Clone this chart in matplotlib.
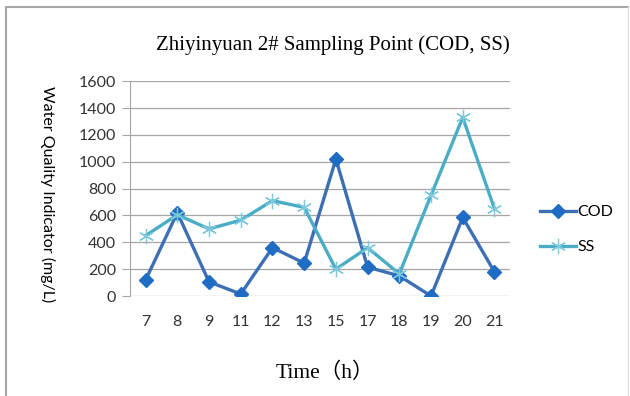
import matplotlib
matplotlib.use('Agg')
import matplotlib.pyplot as plt
from matplotlib.lines import Line2D

hours = ['7', '8', '9', '11', '12', '13', '15', '17', '18', '19', '20', '21']
cod = [120, 620, 105, 15, 360, 245, 1020, 215, 150, 0, 585, 180]
ss = [450, 605, 500, 565, 710, 660, 200, 360, 165, 750, 1330, 650]
yticks = [0, 200, 400, 600, 800, 1000, 1200, 1400, 1600]

fig = plt.figure(figsize=(6.3, 3.96), dpi=100)
ax = fig.add_axes([0.206, 0.2525, 0.604, 0.5425])

# frame around the chart (left, top, right edges only)
fig.add_artist(Line2D([0.009, 0.009], [0, 0.982], color='#a6a6a6', lw=1.5))
fig.add_artist(Line2D([0.009, 0.997], [0.982, 0.982], color='#a6a6a6', lw=1.5))
fig.add_artist(Line2D([0.997, 0.997], [0, 0.982], color='#e0e0e0', lw=1))

x = range(len(hours))
ax.plot(x, cod, color='#3d6fb4', lw=2.4, marker='D', ms=7,
        mfc='#1f6cc4', mec='#1f6cc4', label='COD', zorder=3)
ax.plot(x, ss, color='#4bacc6', lw=2.4, marker=(6, 2, 0), ms=11,
        mec='#7cc9dc', mew=0.9, label='SS', zorder=3)

ax.set_xlim(-0.5, len(hours) - 0.5)
ax.set_ylim(0, 1600)
ax.set_yticks(yticks)
ax.set_xticks(list(x))
ax.set_xticklabels(hours)
ax.yaxis.grid(True, color='#a6a6a6', lw=0.9)
ax.set_axisbelow(True)
for s in ['top', 'right', 'bottom']:
    ax.spines[s].set_visible(False)
ax.spines['left'].set_color('#a6a6a6')
ax.tick_params(axis='y', length=6, color='#a6a6a6', pad=4)
ax.tick_params(axis='x', length=0, pad=14)
for lab in ax.get_xticklabels() + ax.get_yticklabels():
    lab.set_family('Lato')
    lab.set_fontsize(11.5)
    lab.set_color('#333333')

fig.text(0.529, 0.886, 'Zhiyinyuan 2# Sampling Point (COD, SS)',
         ha='center', va='center', fontsize=15,
         family=['Liberation Serif', 'DejaVu Serif'])
fig.text(0.515, 0.058, 'Time（h）', ha='center', va='center', fontsize=15.5,
         family=['Liberation Serif', 'Noto Sans CJK SC'])
fig.text(0.076, 0.51, 'Water Quality Indicator (mg/L)', rotation=-90,
         ha='center', va='center', fontsize=11.5, family='Lato')

leg = fig.legend(loc='center left', bbox_to_anchor=(0.835, 0.42), frameon=False,
                 prop={'family': 'Lato', 'size': 11.5}, handlelength=2.2,
                 handletextpad=0.1, labelspacing=1.3)

fig.savefig('out.png', dpi=100)
